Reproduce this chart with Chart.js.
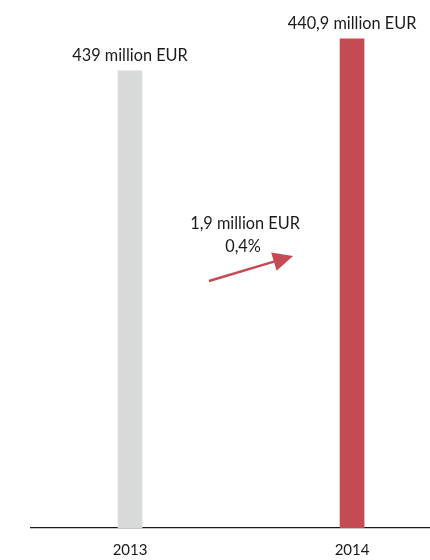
<!DOCTYPE html>
<html>
<head>
<meta charset="utf-8">
<script src="https://cdn.jsdelivr.net/npm/chart.js@4/dist/chart.umd.min.js"></script>
<style>
  html, body { margin: 0; padding: 0; background: #fff; }
  #wrap { width: 430px; height: 560px; }
</style>
</head>
<body>
<div id="wrap"><canvas id="c"></canvas></div>
<script>
// Revenue by year, million EUR
const years = [2013, 2014];
const revenue = [439, 440.9];
const barColors = ['#d8dad9', '#c44a53'];
const unit = 'million EUR';

const FONT = 'Lato, "Open Sans", sans-serif';
const fmt = v => String(Math.round(v * 10) / 10).replace('.', ',');

const diff = revenue[1] - revenue[0];
const pct = diff / revenue[0] * 100;

const labelsPlugin = {
  id: 'valueLabels',
  afterDatasetsDraw(chart) {
    const ctx = chart.ctx;
    const meta = chart.getDatasetMeta(0);
    ctx.save();
    ctx.fillStyle = '#1a1a1a';
    ctx.font = '16.3px ' + FONT;
    ctx.textAlign = 'center';
    ctx.textBaseline = 'alphabetic';
    meta.data.forEach((bar, i) => {
      ctx.fillText(fmt(revenue[i]) + ' ' + unit, bar.x, bar.y - 9.5);
    });

    // change annotation between the two bars
    const xs = chart.scales.x, ys = chart.scales.y;
    const midX = xs.getPixelForValue((years[0] + years[1]) / 2);
    const cx = midX + 4;
    ctx.fillText(fmt(diff) + ' ' + unit, cx, ys.top + 229);
    ctx.fillText(fmt(pct) + '%', cx - 2, ys.top + 252);

    // arrow
    const x0 = midX - 32, y0 = ys.top + 281;
    const x1 = midX + 52, y1 = ys.top + 256;
    const ang = Math.atan2(y1 - y0, x1 - x0);
    const headLen = 20, headHalf = 9.5;
    const bx = x1 - headLen * Math.cos(ang), by = y1 - headLen * Math.sin(ang);
    ctx.strokeStyle = '#c44a53';
    ctx.fillStyle = '#c44a53';
    ctx.lineWidth = 2.4;
    ctx.beginPath();
    ctx.moveTo(x0, y0);
    ctx.lineTo(bx, by);
    ctx.stroke();
    ctx.beginPath();
    ctx.moveTo(x1, y1);
    ctx.lineTo(bx + headHalf * Math.sin(ang), by - headHalf * Math.cos(ang));
    ctx.lineTo(bx - headHalf * Math.sin(ang), by + headHalf * Math.cos(ang));
    ctx.closePath();
    ctx.fill();
    ctx.restore();
  }
};

new Chart(document.getElementById('c'), {
  type: 'bar',
  data: {
    datasets: [{
      data: years.map((y, i) => ({ x: y, y: revenue[i] })),
      backgroundColor: barColors,
      barThickness: 24,
      borderWidth: 0
    }]
  },
  options: {
    responsive: true,
    maintainAspectRatio: false,
    animation: false,
    layout: { padding: { top: 0, bottom: 0, left: 31, right: 0 } },
    plugins: { legend: { display: false }, tooltip: { enabled: false } },
    scales: {
      x: {
        type: 'linear',
        offset: false,
        min: 2012.554,
        max: 2014.351,
        afterBuildTicks: s => { s.ticks = years.map(v => ({ value: v })); },
        afterFit: s => { s.height = 32; },
        grid: { display: false, drawTicks: false },
        border: { display: true, color: '#1a1a1a', width: 1.2 },
        ticks: {
          padding: 13.5,
          color: '#1a1a1a',
          font: { family: FONT, size: 15 },
          callback: v => String(v)
        }
      },
      y: {
        display: false,
        min: 411.86,
        max: 443.21
      }
    }
  },
  plugins: [labelsPlugin]
});
</script>
</body>
</html>
